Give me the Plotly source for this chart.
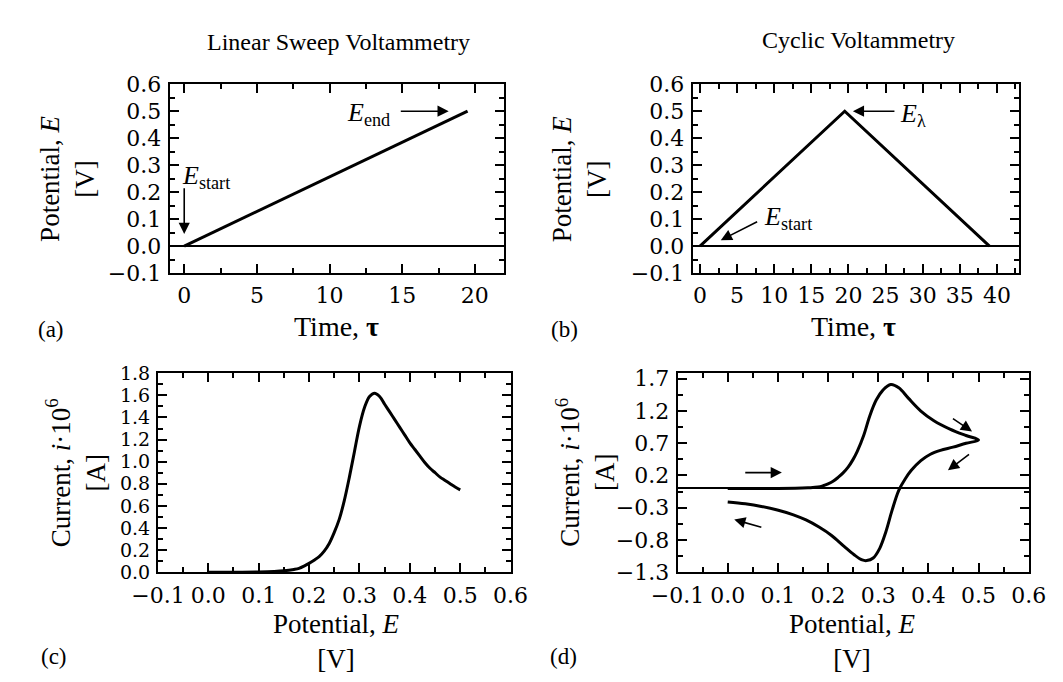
import plotly.graph_objects as go

# ---------------- data ----------------
lsv_time = [0, 19.5]
lsv_E = [0.0, 0.5]

cv_time = [0, 19.5, 39]
cv_E = [0.0, 0.5, 0.0]

lsv_pot = [0.0, 0.05, 0.10, 0.13, 0.15, 0.17, 0.18, 0.19, 0.2, 0.21, 0.22, 0.23, 0.24,
           0.25, 0.26, 0.27, 0.28, 0.29, 0.30, 0.31, 0.32, 0.33, 0.34, 0.35, 0.36, 0.37,
           0.38, 0.39, 0.40, 0.41, 0.42, 0.43, 0.44, 0.45, 0.46, 0.47, 0.48, 0.49, 0.5]
lsv_cur = [0.0, 0.0, 0.002, 0.006, 0.012, 0.025, 0.035, 0.055, 0.08, 0.108, 0.14, 0.19,
           0.26, 0.36, 0.48, 0.65, 0.86, 1.09, 1.32, 1.49, 1.59, 1.62, 1.59, 1.52, 1.45,
           1.38, 1.31, 1.24, 1.17, 1.11, 1.05, 0.99, 0.94, 0.90, 0.86, 0.83, 0.80, 0.77,
           0.745]

cv_fwd_pot = [0.0, 0.05, 0.10, 0.16, 0.18, 0.19, 0.2, 0.21, 0.22, 0.23, 0.24, 0.25,
              0.258, 0.271, 0.283, 0.296, 0.309, 0.325, 0.341, 0.36, 0.385, 0.411, 0.443,
              0.475, 0.5]
cv_fwd_cur = [0.0, 0.0, 0.0, 0.01, 0.02, 0.04, 0.07, 0.11, 0.17, 0.24, 0.33, 0.45,
              0.57, 0.82, 1.12, 1.37, 1.52, 1.61, 1.56, 1.40, 1.20, 1.05, 0.92,
              0.82, 0.75]
cv_rev_pot = [0.5, 0.475, 0.449, 0.424, 0.404, 0.385, 0.366, 0.354, 0.341, 0.328, 0.315,
              0.303, 0.29, 0.277, 0.268, 0.252, 0.232, 0.207, 0.182, 0.156, 0.131, 0.099,
              0.067, 0.035, 0.0]
cv_rev_cur = [0.75, 0.70, 0.64, 0.59, 0.53, 0.43, 0.28, 0.15, -0.03, -0.33, -0.68,
              -0.93, -1.08, -1.12, -1.11, -1.03, -0.90, -0.73, -0.60, -0.49, -0.41, -0.335,
              -0.28, -0.24, -0.21]

W, H = 1063, 682
SERIF = "Liberation Serif"


def tickfont(size=22):
    return dict(family="DejaVu Serif", size=size, color="black")


def px(x):
    return x / W


def py(y):
    return 1 - y / H


fig = go.Figure()
fig.add_trace(go.Scatter(x=lsv_time, y=lsv_E, mode="lines",
                         line=dict(color="black", width=3), xaxis="x", yaxis="y"))
fig.add_trace(go.Scatter(x=cv_time, y=cv_E, mode="lines",
                         line=dict(color="black", width=3), xaxis="x2", yaxis="y2"))
fig.add_trace(go.Scatter(x=lsv_pot, y=lsv_cur, mode="lines", line_shape="spline",
                         line=dict(color="black", width=3, smoothing=1.0),
                         xaxis="x3", yaxis="y3"))
fig.add_trace(go.Scatter(x=cv_fwd_pot + cv_rev_pot[1:], y=cv_fwd_cur + cv_rev_cur[1:],
                         mode="lines", line_shape="spline",
                         line=dict(color="black", width=3), xaxis="x4", yaxis="y4"))
# empty traces so that the mirrored (top / right) tick axes are drawn
for k in range(5, 9):
    fig.add_trace(go.Scatter(x=[], y=[], mode="lines", xaxis=f"x{k}", yaxis=f"y{k}",
                             hoverinfo="skip"))


def ax_style(rng, dtick, minor_dtick, fmt, tick0=None, fsize=22, zeroline=False):
    d = dict(range=rng, dtick=dtick, tickformat=fmt,
             ticks="inside", ticklen=9, tickwidth=1.5, tickcolor="black",
             showline=True, linewidth=2, linecolor="black",
             showgrid=False, zeroline=zeroline, zerolinecolor="black", zerolinewidth=1.5,
             tickfont=tickfont(fsize), ticklabelstandoff=2,
             minor=dict(dtick=minor_dtick, ticks="inside", ticklen=5, tickwidth=1.5,
                        tickcolor="black", showgrid=False))
    if tick0 is not None:
        d["tick0"] = tick0
        d["minor"]["tick0"] = tick0
    return d


yA = [py(271), py(75)]
yC = [py(581.5), py(375)]
xa = [px(149), px(498)]
xb = [px(695), px(1036)]
xc = [px(136.7), px(505)]
xd = [px(679.3), px(1046)]

panels = [
    # (x domain, y domain, x spec, y spec, zero line)
    (xa, yA, ([-1, 22], 5, 2.5, "d", None, 22), ([-0.1, 0.6], 0.1, 0.05, ".1f", None, 22), True),
    (xb, yA, ([-1, 43], 5, 2.5, "d", None, 22), ([-0.1, 0.6], 0.1, 0.05, ".1f", None, 22), True),
    (xc, yC, ([-0.1, 0.6], 0.1, 0.05, ".1f", None, 22), ([0, 1.8], 0.2, 0.1, ".1f", None, 19), False),
    (xd, yC, ([-0.1, 0.6], 0.1, 0.05, ".1f", None, 22), ([-1.3, 1.786], 0.5, 0.25, ".1f", -1.3, 22), True),
]

lay = {}
for i, (xdom, ydom, xs, ys, zl) in enumerate(panels, start=1):
    sx = "" if i == 1 else str(i)
    xa_ = ax_style(*xs)
    xa_.update(domain=xdom, anchor=f"y{sx}", mirror=True)
    ya_ = ax_style(*ys, zeroline=zl)
    ya_.update(domain=ydom, anchor=f"x{sx}", mirror=True)
    lay[f"xaxis{sx}"] = xa_
    lay[f"yaxis{sx}"] = ya_
    # overlay axes providing the ticks on the top and right sides
    k = i + 4
    xo = ax_style(*xs)
    xo.update(overlaying=f"x{sx}", side="top", anchor=f"y{k}", showticklabels=False,
              showline=False)
    yo = ax_style(*ys)
    yo.update(overlaying=f"y{sx}", side="right", anchor=f"x{k}", showticklabels=False,
              showline=False)
    lay[f"xaxis{k}"] = xo
    lay[f"yaxis{k}"] = yo

fig.update_layout(width=W, height=H, margin=dict(l=0, r=0, t=0, b=0),
                  paper_bgcolor="white", plot_bgcolor="white", showlegend=False, **lay)

ann = []


def text(x, y, s, size=26, angle=0, xanchor="center", yanchor="middle"):
    ann.append(dict(x=px(x), y=py(y), xref="paper", yref="paper", text=s, showarrow=False,
                    textangle=angle, xanchor=xanchor, yanchor=yanchor,
                    font=dict(family=SERIF, size=size, color="black")))


# main titles
text(325, 31, "Linear Sweep Voltammetry", size=24)
text(868, 29, "Cyclic Voltammetry", size=24)

# panel labels
text(25, 330, "(a)", size=23)
text(561, 330, "(b)", size=23)
text(28, 669, "(c)", size=23)
text(560, 669, "(d)", size=23)

# axis titles
text(323, 326, "Time, <b>τ</b>", size=28)
text(863, 326, "Time, <b>τ</b>", size=28)
text(42, 173, "Potential, <i>E</i><br>[V]", size=27, angle=-90)
text(577, 173, "Potential, <i>E</i><br>[V]", size=27, angle=-90)
text(323, 653, "Potential, <i>E</i><br>[V]", size=27)
text(862, 653, "Potential, <i>E</i><br>[V]", size=27)
text(51, 478, "Current, <i>i</i>·10<sup>6</sup><br>[A]", size=27, angle=-90)
text(583, 478, "Current, <i>i</i>·10<sup>6</sup><br>[A]", size=27, angle=-90)


def dtext(xr, yr, x, y, s, size=26):
    ann.append(dict(x=x, y=y, xref=xr, yref=yr, text=s, showarrow=False,
                    font=dict(family=SERIF, size=size, color="black")))


def arrow(xr, yr, x0, y0, x1, y1, w=1.6):
    ann.append(dict(x=x1, y=y1, ax=x0, ay=y0, xref=xr, yref=yr, axref=xr, ayref=yr,
                    text="", showarrow=True, arrowhead=2, arrowsize=1.4, arrowwidth=w,
                    arrowcolor="black", standoff=0, startstandoff=0))


# panel (a) annotations
dtext("x", "y", 12.7, 0.49, "<i>E</i><sub>end</sub>")
arrow("x", "y", 14.8, 0.5, 18.2, 0.5)
dtext("x", "y", 1.5, 0.255, "<i>E</i><sub>start</sub>")
arrow("x", "y", 0, 0.22, 0, 0.045)

# panel (b) annotations
dtext("x2", "y2", 28.7, 0.485, "<i>E</i><sub>λ</sub>")
arrow("x2", "y2", 26.4, 0.5, 20.6, 0.5)
dtext("x2", "y2", 11.9, 0.105, "<i>E</i><sub>start</sub>")
arrow("x2", "y2", 7.9, 0.093, 2.8, 0.022)

# panel (d) direction arrows
arrow("x4", "y4", 0.032, 0.245, 0.108, 0.245)
arrow("x4", "y4", 0.070, -0.609, 0.013, -0.484)
arrow("x4", "y4", 0.446, 1.098, 0.487, 0.883)
arrow("x4", "y4", 0.484, 0.546, 0.439, 0.28)

fig.update_layout(annotations=ann)
fig.write_html("out.html")
